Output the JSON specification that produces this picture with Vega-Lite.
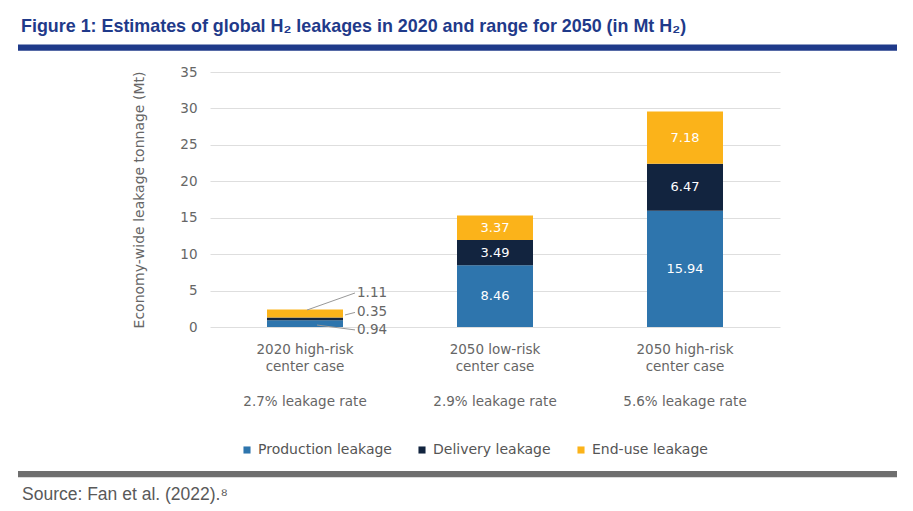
{
  "$schema": "https://vega.github.io/schema/vega-lite/v6.json",
  "description": "Estimates of global H2 leakages in 2020 and range for 2050.",
  "autosize": {"type": "none"},
  "padding": {"left": 210, "top": 72, "right": 133, "bottom": 184},
  "width": 570,
  "height": 255,
  "title": {
    "text": "Figure 1: Estimates of global H₂ leakages in 2020 and range for 2050 (in Mt H₂)",
    "anchor": "start",
    "frame": "group",
    "dx": -189,
    "offset": 8,
    "font": "Liberation Sans",
    "fontSize": 17.9,
    "fontWeight": "bold",
    "color": "#1f3a8a"
  },
  "datasets": {
    "leaks": [
      {"case": "2020 high-risk center case", "segment": "Production leakage", "rank": 1, "value": 0.94},
      {"case": "2020 high-risk center case", "segment": "Delivery leakage", "rank": 2, "value": 0.35},
      {"case": "2020 high-risk center case", "segment": "End-use leakage", "rank": 3, "value": 1.11},
      {"case": "2050 low-risk center case", "segment": "Production leakage", "rank": 1, "value": 8.46},
      {"case": "2050 low-risk center case", "segment": "Delivery leakage", "rank": 2, "value": 3.49},
      {"case": "2050 low-risk center case", "segment": "End-use leakage", "rank": 3, "value": 3.37},
      {"case": "2050 high-risk center case", "segment": "Production leakage", "rank": 1, "value": 15.94},
      {"case": "2050 high-risk center case", "segment": "Delivery leakage", "rank": 2, "value": 6.47},
      {"case": "2050 high-risk center case", "segment": "End-use leakage", "rank": 3, "value": 7.18}
    ],
    "rates": [
      {"case": "2020 high-risk center case", "rate": "2.7% leakage rate"},
      {"case": "2050 low-risk center case", "rate": "2.9% leakage rate"},
      {"case": "2050 high-risk center case", "rate": "5.6% leakage rate"}
    ],
    "callouts": [
      {"case": "2020 high-risk center case", "label": "1.11", "from": 2.33, "to": 4.67},
      {"case": "2020 high-risk center case", "label": "0.35", "from": 1.65, "to": 2.0},
      {"case": "2020 high-risk center case", "label": "0.94", "from": 0.27, "to": -0.4}
    ],
    "frame": [
      {"part": "header", "y": 38.35},
      {"part": "footer", "y": -20.2}
    ],
    "note": [
      {"text": "Source: Fan et al. (2022).⁸", "y": -23.8}
    ]
  },
  "encoding": {
    "x": {
      "field": "case",
      "type": "nominal",
      "sort": ["2020 high-risk center case", "2050 low-risk center case", "2050 high-risk center case"],
      "scale": {"paddingInner": 0.6, "paddingOuter": 0.3},
      "axis": {
        "title": null,
        "domain": false,
        "ticks": false,
        "labelAngle": 0,
        "labelPadding": 15,
        "labelOverlap": false,
        "labelFont": "DejaVu Sans",
        "labelFontSize": 13.5,
        "labelColor": "#666666",
        "labelLineHeight": 17.5,
        "labelExpr": "datum.value == '2020 high-risk center case' ? ['2020 high-risk', 'center case'] : datum.value == '2050 low-risk center case' ? ['2050 low-risk', 'center case'] : ['2050 high-risk', 'center case']"
      }
    }
  },
  "layer": [
    {
      "data": {"name": "leaks"},
      "transform": [
        {"stack": "value", "groupby": ["case"], "sort": [{"field": "rank", "order": "ascending"}], "as": ["y0", "y1"]}
      ],
      "mark": {"type": "bar"},
      "encoding": {
        "y": {
          "field": "y0",
          "type": "quantitative",
          "scale": {"domain": [0, 35], "nice": false, "zero": true},
          "axis": {
            "title": "Economy-wide leakage tonnage (Mt)",
            "values": [0, 5, 10, 15, 20, 25, 30, 35],
            "tickCount": 8,
            "labelOverlap": false,
            "domain": false,
            "ticks": false,
            "labelPadding": 13,
            "labelFont": "DejaVu Sans",
            "labelFontSize": 13.5,
            "labelColor": "#666666",
            "titleFont": "DejaVu Sans",
            "titleFontSize": 14,
            "titleFontWeight": "normal",
            "titleColor": "#666666",
            "titlePadding": 33,
            "gridColor": "#dedede"
          }
        },
        "y2": {"field": "y1"},
        "color": {
          "field": "segment",
          "type": "nominal",
          "scale": {
            "domain": ["Production leakage", "Delivery leakage", "End-use leakage"],
            "range": ["#2e75ad", "#12243f", "#fbb31a"]
          },
          "legend": {
            "title": null,
            "orient": "none",
            "direction": "horizontal",
            "legendX": 30,
            "legendY": 371,
            "symbolType": "square",
            "symbolSize": 50,
            "symbolStrokeWidth": 0,
            "labelFont": "DejaVu Sans",
            "labelFontSize": 14,
            "labelColor": "#555555",
            "labelOffset": 4,
            "columnPadding": 23
          }
        }
      }
    },
    {
      "data": {"name": "leaks"},
      "transform": [
        {"stack": "value", "groupby": ["case"], "sort": [{"field": "rank", "order": "ascending"}], "as": ["y0", "y1"]},
        {"filter": "datum.case != '2020 high-risk center case'"},
        {"calculate": "(datum.y0 + datum.y1) / 2", "as": "y0"}
      ],
      "mark": {"type": "text", "font": "DejaVu Sans", "fontSize": 13, "color": "white", "baseline": "middle"},
      "encoding": {
        "y": {"field": "y0", "type": "quantitative", "axis": {"values": [0, 5, 10, 15, 20, 25, 30, 35], "tickCount": 8, "labelOverlap": false}},
        "text": {"field": "value", "type": "quantitative", "format": ".2f"}
      }
    },
    {
      "data": {"name": "rates"},
      "mark": {"type": "text", "font": "DejaVu Sans", "fontSize": 13.5, "color": "#666666", "baseline": "middle"},
      "encoding": {
        "y": {"datum": -10.3, "type": "quantitative", "axis": {"values": [0, 5, 10, 15, 20, 25, 30, 35], "tickCount": 8, "labelOverlap": false}},
        "text": {"field": "rate"}
      }
    },
    {
      "data": {"name": "callouts"},
      "transform": [{"filter": "datum.label == '1.11'"}],
      "mark": {"type": "rule", "color": "#999999", "strokeWidth": 1, "xOffset": 2, "x2Offset": 50},
      "encoding": {
        "x2": {"field": "case"},
        "y": {"field": "from", "type": "quantitative", "axis": {"values": [0, 5, 10, 15, 20, 25, 30, 35], "tickCount": 8, "labelOverlap": false}},
        "y2": {"field": "to"}
      }
    },
    {
      "data": {"name": "callouts"},
      "transform": [{"filter": "datum.label == '0.35'"}],
      "mark": {"type": "rule", "color": "#999999", "strokeWidth": 1, "xOffset": 40, "x2Offset": 50},
      "encoding": {
        "x2": {"field": "case"},
        "y": {"field": "from", "type": "quantitative", "axis": {"values": [0, 5, 10, 15, 20, 25, 30, 35], "tickCount": 8, "labelOverlap": false}},
        "y2": {"field": "to"}
      }
    },
    {
      "data": {"name": "callouts"},
      "transform": [{"filter": "datum.label == '0.94'"}],
      "mark": {"type": "rule", "color": "#999999", "strokeWidth": 1, "xOffset": 12, "x2Offset": 50},
      "encoding": {
        "x2": {"field": "case"},
        "y": {"field": "from", "type": "quantitative", "axis": {"values": [0, 5, 10, 15, 20, 25, 30, 35], "tickCount": 8, "labelOverlap": false}},
        "y2": {"field": "to"}
      }
    },
    {
      "data": {"name": "callouts"},
      "mark": {"type": "text", "font": "DejaVu Sans", "fontSize": 13.5, "color": "#666666", "align": "left", "baseline": "middle", "dx": 52},
      "encoding": {
        "y": {"field": "to", "type": "quantitative", "axis": {"values": [0, 5, 10, 15, 20, 25, 30, 35], "tickCount": 8, "labelOverlap": false}},
        "text": {"field": "label"}
      }
    },
    {
      "data": {"name": "frame"},
      "mark": {"type": "rule", "strokeWidth": 6.4, "xOffset": -192, "x2Offset": 117},
      "encoding": {
        "x": {"value": 0},
        "x2": {"value": "width"},
        "y": {"field": "y", "type": "quantitative", "axis": {"values": [0, 5, 10, 15, 20, 25, 30, 35], "tickCount": 8, "labelOverlap": false}},
        "color": {
          "field": "part",
          "type": "nominal",
          "scale": {"domain": ["header", "footer"], "range": ["#1f3a8a", "#6e6e6e"]},
          "legend": null
        }
      }
    },
    {
      "data": {"name": "note"},
      "mark": {"type": "text", "font": "Liberation Sans", "fontSize": 17.5, "color": "#595959", "align": "left", "baseline": "alphabetic", "xOffset": -473},
      "encoding": {
        "x": {"value": 285},
        "y": {"field": "y", "type": "quantitative", "axis": {"values": [0, 5, 10, 15, 20, 25, 30, 35], "tickCount": 8, "labelOverlap": false}},
        "text": {"field": "text"}
      }
    }
  ],
  "resolve": {"scale": {"color": "independent"}},
  "config": {
    "view": {"stroke": null},
    "axis": {"gridWidth": 1}
  }
}
